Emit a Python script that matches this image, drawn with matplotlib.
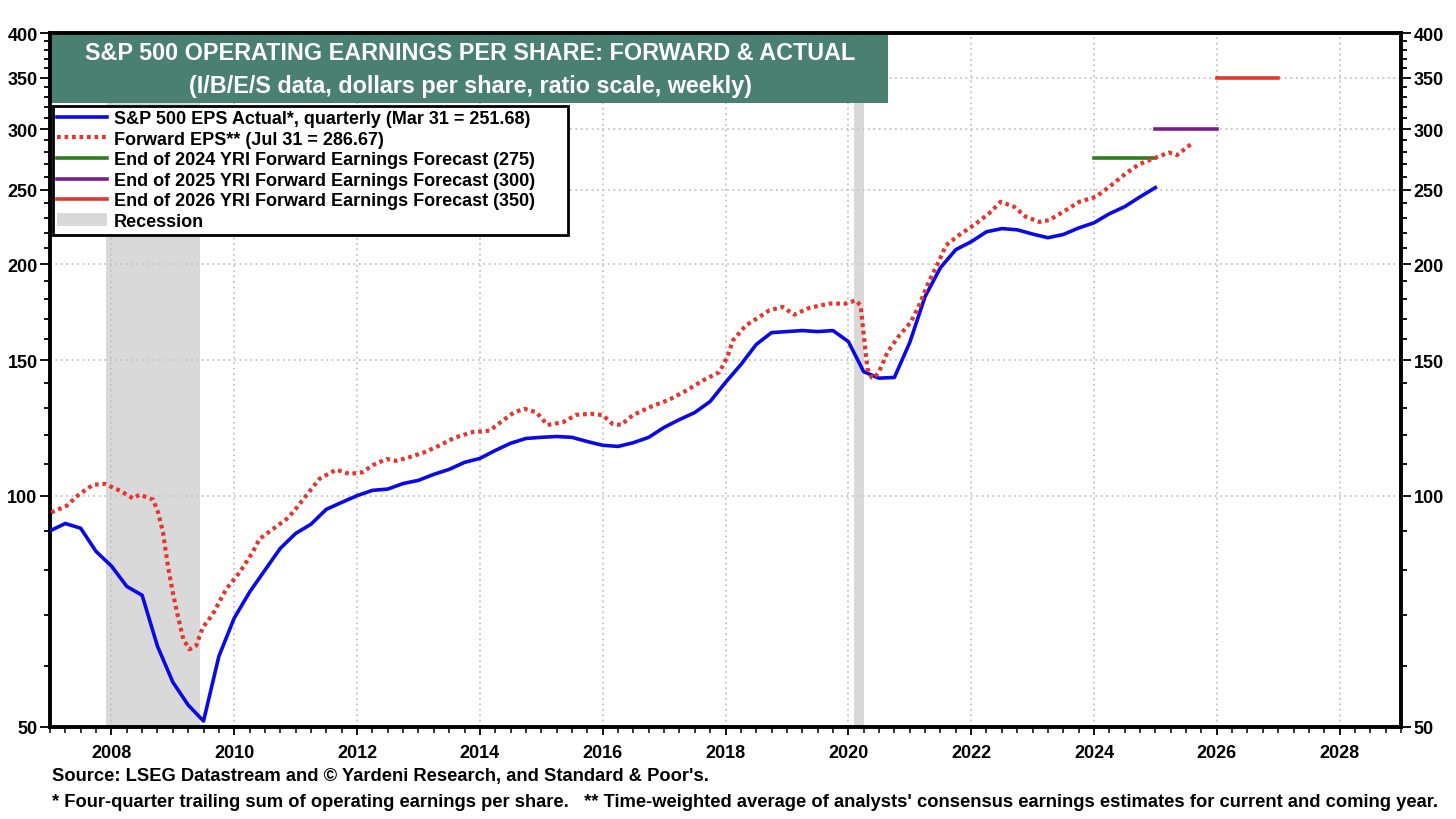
import matplotlib
matplotlib.use("Agg")
import numpy as np
import matplotlib.pyplot as plt
from matplotlib.lines import Line2D
from matplotlib.patches import Patch, Rectangle
from matplotlib.ticker import FixedLocator, NullFormatter

plt.rcParams['font.family'] = ['Liberation Sans', 'DejaVu Sans']
plt.rcParams['font.weight'] = 'bold'

# S&P 500 EPS actual, quarterly (four-quarter trailing sum), from 2007 Q1 position
actual_x = np.arange(2007.0, 2025.01, 0.25)
actual_eps = [90.0, 92.0, 90.7, 84.6, 81.0, 76.2, 74.2, 63.7, 57.2, 53.4, 50.9, 61.8,
              69.3, 74.9, 80.0, 85.4, 89.3, 91.8, 96.0, 98.0, 100.0, 101.6, 102.0, 103.7,
              104.7, 106.6, 108.2, 110.5, 111.8, 114.5, 117.0, 118.7, 119.1, 119.4, 119.1, 117.6,
              116.3, 115.9, 117.2, 119.1, 122.7, 125.6, 128.3, 132.6, 140.4, 148.1, 157.3, 163.0,
              163.5, 164.0, 163.5, 164.0, 158.7, 145.0, 142.2, 142.5, 158.2, 181.6, 198.0, 209.0,
              214.0, 220.5, 222.6, 221.8, 219.0, 216.6, 218.7, 223.0, 226.5, 232.7, 237.7, 244.8,
              251.7]

# Forward EPS (weekly series, read at turning points)
fwd_x = [2007.02, 2007.27, 2007.48, 2007.70, 2007.89, 2008.14, 2008.35, 2008.46, 2008.68,
         2008.76, 2008.84, 2008.92, 2009.00, 2009.08, 2009.17, 2009.27, 2009.38, 2009.49,
         2009.65, 2009.87, 2010.09, 2010.30, 2010.41, 2010.63, 2010.85, 2010.98, 2011.17,
         2011.39, 2011.66, 2011.88, 2012.09, 2012.26, 2012.48, 2012.64, 2012.85, 2013.10,
         2013.34, 2013.58, 2013.88, 2014.16, 2014.37, 2014.56, 2014.73, 2014.92, 2015.10,
         2015.35, 2015.57, 2015.81, 2016.00, 2016.16, 2016.30, 2016.49, 2016.81, 2017.09,
         2017.36, 2017.63, 2017.90, 2018.03, 2018.12, 2018.33, 2018.55, 2018.71, 2018.93,
         2019.12, 2019.36, 2019.69, 2019.96, 2020.12, 2020.20, 2020.25, 2020.31, 2020.38,
         2020.42, 2020.50, 2020.64, 2020.83, 2021.02, 2021.15, 2021.31, 2021.47, 2021.59,
         2021.80, 2022.08, 2022.29, 2022.48, 2022.70, 2022.89, 2023.11, 2023.27, 2023.54,
         2023.76, 2024.03, 2024.25, 2024.52, 2024.73, 2025.00, 2025.22, 2025.35, 2025.58]
fwd_eps = [95.1, 97.0, 100.5, 103.3, 103.6, 101.5, 99.2, 100.3, 98.8,
           95.1, 89.6, 81.0, 74.8, 69.8, 65.1, 63.1, 63.8, 67.4,
           70.1, 75.6, 79.5, 84.4, 87.8, 90.5, 93.2, 95.6, 100.0,
           105.2, 108.1, 106.7, 107.3, 109.6, 111.6, 111.0, 112.2, 113.9,
           116.2, 118.9, 121.0, 121.5, 125.2, 128.4, 129.7, 128.4, 123.6,
           124.6, 127.4, 127.8, 127.3, 124.0, 123.6, 127.3, 130.8, 133.4,
           137.0, 141.2, 144.8, 151.5, 159.2, 166.5, 170.8, 174.2, 176.0,
           172.0, 175.5, 177.8, 177.8, 179.5, 176.8, 162.0, 146.5, 142.5,
           142.2, 145.0, 153.8, 161.6, 168.3, 176.8, 189.7, 201.5, 211.7,
           218.2, 226.0, 232.9, 241.2, 237.7, 230.6, 227.1, 228.3, 235.2,
           241.2, 244.8, 252.3, 262.6, 269.8, 275.2, 279.6, 277.4, 286.67]

# YRI year-end forward earnings forecasts: (start, end, value)
forecasts = [(2024.0, 2025.0, 275), (2025.0, 2026.0, 300), (2026.0, 2027.0, 350)]
forecast_colors = ['#2e7d1e', '#7a1d8c', '#e8352b']

recessions = [(2007.92, 2009.45), (2020.10, 2020.26)]

y_ticks = [50, 100, 150, 200, 250, 300, 350, 400]
x_ticks = list(range(2008, 2029, 2))

legend_labels = ['S&P 500 EPS Actual*, quarterly (Mar 31 = 251.68)',
                 'Forward EPS** (Jul 31 = 286.67)',
                 'End of 2024 YRI Forward Earnings Forecast (275)',
                 'End of 2025 YRI Forward Earnings Forecast (300)',
                 'End of 2026 YRI Forward Earnings Forecast (350)',
                 'Recession']

blue = '#0a0ae8'
red = '#e8352b'

W, H = 1456, 820
fig = plt.figure(figsize=(14.56, 8.2), dpi=100)
ax = fig.add_axes([50 / W, 1 - 728 / H, (1401 - 50) / W, (728 - 34) / H])

for start, end in recessions:
    ax.axvspan(start, end, color='#d9d9d9', lw=0, zorder=1)

ax.plot(actual_x, actual_eps, color=blue, lw=2.6, zorder=4)
ax.plot(fwd_x, fwd_eps, color=red, lw=3.0, linestyle=(0, (0.9, 0.9)), zorder=5)
for (x0, x1, val), col in zip(forecasts, forecast_colors):
    ax.plot([x0, x1], [val, val], color=col, lw=2.6, zorder=4)

ax.set_yscale('log')
ax.set_ylim(50, 400)
ax.set_xlim(2007, 2029)
ax.set_yticks(y_ticks)
ax.set_yticklabels([str(v) for v in y_ticks])
ax.yaxis.set_minor_locator(FixedLocator([v for v in range(60, 400, 10) if v % 50 != 0]))
ax.yaxis.set_minor_formatter(NullFormatter())
ax.set_xticks(x_ticks)
ax.set_xticklabels([str(v) for v in x_ticks])
ax.xaxis.set_minor_locator(FixedLocator(np.arange(2007, 2029.01, 0.25)))

ax.tick_params(axis='y', which='both', left=True, right=True, labelleft=True, labelright=True,
               labelsize=13, width=1.3, direction='out')
ax.tick_params(axis='y', which='major', length=7, pad=2)
ax.tick_params(axis='y', which='minor', length=4)
ax.tick_params(axis='x', which='major', length=6, width=1.3, labelsize=13, pad=6)
ax.tick_params(axis='x', which='minor', length=4, width=1.1)

ax.grid(which='major', color='#c4c4c4', linestyle=(0, (1, 2)), linewidth=1.3, zorder=0)
for s in ax.spines.values():
    s.set_linewidth(2.8)

# title box
fig.patches.append(Rectangle((52 / W, 1 - 104 / H), (888 - 52) / W, (104 - 36) / H,
                             transform=fig.transFigure, facecolor='#4a8072', edgecolor='none',
                             zorder=10))
fig.text(470 / W, 1 - 53 / H, 'S&P 500 OPERATING EARNINGS PER SHARE: FORWARD & ACTUAL',
         color='white', fontsize=16.8, fontweight='bold', ha='center', va='center', zorder=11)
fig.text(470 / W, 1 - 86 / H, '(I/B/E/S data, dollars per share, ratio scale, weekly)',
         color='white', fontsize=16.8, fontweight='bold', ha='center', va='center', zorder=11)

# legend box (frame drawn separately to get the wide right margin)
fig.patches.append(Rectangle((53 / W, 1 - 236 / H), (568 - 53) / W, (236 - 107) / H,
                             transform=fig.transFigure, facecolor='white', edgecolor='black',
                             linewidth=2, zorder=10))
handles = [Line2D([], [], color=blue, lw=2.6),
           Line2D([], [], color=red, lw=3.0, linestyle=(0, (0.9, 0.9))),
           Line2D([], [], color=forecast_colors[0], lw=2.6),
           Line2D([], [], color=forecast_colors[1], lw=2.6),
           Line2D([], [], color=forecast_colors[2], lw=2.6),
           Patch(facecolor='#d9d9d9', edgecolor='none')]
leg = fig.legend(handles, legend_labels, loc='upper left',
                 bbox_to_anchor=(57 / W, 1 - 111 / H), borderaxespad=0,
                 fontsize=13.0, frameon=False,
                 handlelength=2.75, handletextpad=0.4, labelspacing=0.2, borderpad=0.0)
leg.set_zorder(12)
for t in leg.get_texts():
    t.set_fontweight('bold')

fig.text(52 / W, 1 - 777 / H,
         "Source: LSEG Datastream and \u00a9 Yardeni Research, and Standard & Poor's.",
         fontsize=13.2, fontweight='bold', ha='left', va='center')
fig.text(52 / W, 1 - 803 / H,
         "* Four-quarter trailing sum of operating earnings per share.   "
         "** Time-weighted average of analysts' consensus earnings estimates for current and coming year.",
         fontsize=13.2, fontweight='bold', ha='left', va='center')

fig.savefig('out.png', dpi=100)
